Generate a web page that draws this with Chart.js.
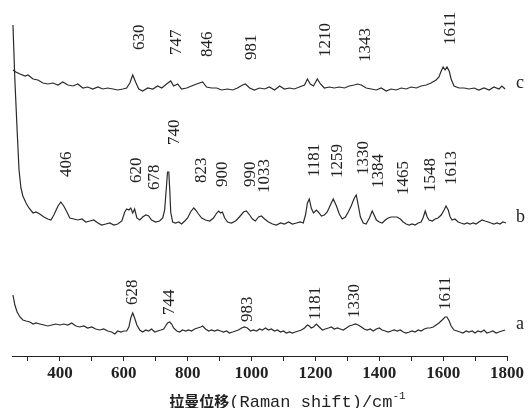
<!DOCTYPE html>
<html lang="zh">
<head>
<meta charset="UTF-8">
<title>拉曼光谱</title>
<script src="https://cdn.jsdelivr.net/npm/chart.js"></script>
<style>
  html, body { margin: 0; padding: 0; background: #fff; }
  #wrap { width: 528px; height: 408px; position: relative; }
</style>
</head>
<body>
<div id="wrap"><canvas id="grafico"></canvas></div>
<script>
// espectros: desplazamiento Raman (cm-1) e intensidad (u.a., con desplazamiento vertical)
const cX = [253,262,275,291,300,316,331,347,362,378,394,409,425,441,456,472,487,503,519,534,550,566,581,597,609,619,628,637,647,659,675,691,706,719,734,747,756,769,781,797,812,828,847,859,875,891,906,925,941,956,972,981,994,1009,1025,1041,1056,1072,1088,1103,1119,1134,1150,1166,1175,1184,1194,1206,1216,1228,1244,1259,1275,1291,1306,1322,1331,1344,1359,1375,1391,1406,1422,1437,1453,1469,1484,1500,1516,1531,1547,1562,1578,1587,1594,1600,1606,1612,1619,1625,1634,1650,1666,1681,1697,1712,1728,1744,1759,1775,1784,1794];
const cY = [286,284,282,280,281,277,276,273,272,273,271,274,271,270,272,268,269,267,269,267,268,267,266,267,268,273,281,274,267,265,268,267,270,268,272,275,270,272,267,268,270,272,274,269,268,268,266,267,266,268,271,272,268,266,268,267,269,266,270,267,268,267,269,271,277,272,270,277,272,268,269,268,269,268,270,271,272,271,268,267,266,268,265,267,266,268,267,269,268,270,271,273,276,279,285,289,286,289,285,277,270,268,268,267,268,266,268,266,269,267,270,267];

const bX = [253,259,266,272,278,284,294,303,316,325,337,350,362,372,381,394,403,412,422,431,444,456,469,481,494,506,519,531,544,556,569,581,594,603,609,616,622,628,634,641,650,659,669,678,687,700,712,722,728,734,737,741,744,747,753,762,772,781,791,800,809,819,825,834,844,856,869,881,891,897,903,909,916,925,937,950,962,975,984,994,1003,1012,1022,1031,1041,1053,1066,1078,1091,1103,1116,1128,1141,1153,1162,1169,1175,1181,1187,1194,1203,1209,1219,1228,1237,1247,1256,1266,1275,1284,1294,1303,1312,1322,1328,1334,1341,1350,1359,1369,1378,1384,1391,1400,1409,1419,1428,1437,1447,1456,1466,1475,1484,1494,1503,1512,1522,1531,1537,1544,1550,1556,1566,1575,1584,1594,1603,1609,1616,1622,1628,1637,1647,1656,1666,1675,1684,1694,1703,1712,1722,1731,1741,1750,1759,1769,1778,1787,1797];
const bY = [331,276,226,186,168,160,153,148,143,144,142,139,137,136,141,150,154,150,144,138,137,136,137,134,135,136,133,131,132,133,131,132,135,144,147,146,148,143,147,138,136,139,141,140,136,134,135,138,146,171,184,184,166,144,134,133,134,132,135,138,144,148,146,142,138,136,135,138,143,145,143,144,138,134,133,135,139,144,145,141,137,135,139,140,137,134,132,131,133,132,134,132,133,134,133,141,153,157,148,143,146,144,140,141,144,151,157,150,142,137,139,144,150,158,161,151,139,133,132,138,145,141,136,134,133,136,138,139,139,139,137,134,132,131,132,131,133,134,138,145,139,136,135,137,138,141,146,150,146,139,136,137,134,133,132,133,132,133,132,134,136,135,134,133,132,133,132,134,133];

const aX = [253,259,266,275,284,294,306,316,325,337,350,362,375,387,400,412,425,437,450,462,475,487,500,512,525,537,550,562,572,581,591,600,609,616,622,628,634,641,650,659,669,678,687,697,706,716,725,731,737,744,750,756,766,775,784,794,803,812,822,831,841,847,856,866,875,884,894,903,912,922,931,941,950,959,969,978,987,997,1006,1016,1025,1034,1044,1053,1062,1072,1081,1091,1100,1109,1119,1128,1137,1147,1156,1166,1175,1181,1187,1194,1203,1212,1222,1231,1241,1250,1259,1269,1278,1287,1297,1306,1316,1325,1334,1344,1353,1362,1372,1381,1391,1400,1409,1419,1428,1437,1447,1456,1466,1475,1484,1494,1503,1512,1522,1531,1541,1550,1559,1569,1578,1587,1597,1606,1612,1619,1625,1634,1644,1653,1662,1672,1681,1691,1700,1709,1719,1728,1737,1747,1756,1766,1775,1784,1794];
const aY = [61,51,44,39,36,35,34,32,33,32,31,30,31,32,31,32,31,33,30,29,30,28,29,27,26,27,25,24,22,25,24,25,25,29,38,43,38,31,26,24,26,25,27,24,25,26,27,30,33,34,32,28,25,24,26,25,26,25,27,28,29,30,27,25,26,25,26,25,24,25,23,24,25,26,28,29,28,25,26,25,27,26,28,26,27,25,26,24,25,23,24,23,24,25,26,28,31,30,28,29,32,29,26,27,28,29,27,28,27,26,28,30,31,32,31,29,27,26,27,25,27,28,26,25,24,25,26,25,26,24,23,24,25,24,26,25,27,28,28,29,31,33,36,39,39,35,30,26,25,24,23,25,24,25,23,25,24,26,23,24,25,23,24,25,26];

// marcas del eje x
const marcasX = [300,400,500,600,700,800,900,1000,1100,1200,1300,1400,1500,1600,1700,1800];
const etiquetasX = [400,600,800,1000,1200,1400,1600,1800];

// rótulos de picos: texto, posición (cm-1) e intensidad del pie del texto
const picosC = ['630','747','846','981','1210','1343','1611'];
const picosCX = [650,766,862,1000,1231,1356,1622];
const picosCY = [306,301,299,296,299,294,311];

const picosB = ['406','620','678','740','823','900','990','1033','1181','1259','1330','1384','1465','1548','1613'];
const picosBX = [422,641,697,759,844,909,997,1041,1197,1269,1350,1397,1475,1559,1625];
const picosBY = [179,173,166,211,173,169,169,163,179,178,181,168,161,164,171];

const picosA = ['628','744','983','1181','1330','1611'];
const picosAX = [628,744,988,1200,1322,1606];
const picosAY = [51,41,34,36,38,46];

const series = [
  { nombre: 'c', x: cX, y: cY, picos: picosC, px: picosCX, py: picosCY },
  { nombre: 'b', x: bX, y: bY, picos: picosB, px: picosBX, py: picosBY },
  { nombre: 'a', x: aX, y: aY, picos: picosA, px: picosAX, py: picosAY }
];

const tinta = '#222';
const serif = '"Liberation Serif", "Times New Roman", serif';

const rotulos = {
  id: 'rotulos',
  afterDraw(chart) {
    const { ctx, scales: { x, y } } = chart;
    ctx.save();
    ctx.fillStyle = tinta;

    // números de los picos, en vertical
    ctx.font = '17px ' + serif;
    ctx.textAlign = 'left';
    ctx.textBaseline = 'middle';
    series.forEach(s => {
      s.picos.forEach((t, i) => {
        ctx.save();
        ctx.translate(x.getPixelForValue(s.px[i]), y.getPixelForValue(s.py[i]));
        ctx.rotate(-Math.PI / 2);
        ctx.fillText(t, 0, 0);
        ctx.restore();
      });
    });

    // letra de cada curva al final
    ctx.font = '18px ' + serif;
    ctx.textBaseline = 'alphabetic';
    series.forEach(s => {
      const fin = s.y[s.y.length - 1];
      ctx.fillText(s.nombre, x.right + 9, y.getPixelForValue(fin) - 1);
    });

    // título del eje x
    const base = x.bottom - 1;
    const parte1 = '拉曼位移';
    const parte2 = '(Raman shift)/cm';
    ctx.font = 'bold 15px "Noto Sans CJK SC"';
    const w1 = ctx.measureText(parte1).width;
    ctx.font = '17px "Liberation Mono", monospace';
    const w2 = ctx.measureText(parte2).width;
    ctx.font = '11px "Liberation Mono", monospace';
    const w3 = ctx.measureText('-1').width;
    let x0 = (x.left + x.right) / 2 + 28 - (w1 + w2 + w3) / 2;
    ctx.font = 'bold 15px "Noto Sans CJK SC"';
    ctx.fillText(parte1, x0, base);
    x0 += w1;
    ctx.font = '17px "Liberation Mono", monospace';
    ctx.fillText(parte2, x0, base);
    x0 += w2;
    ctx.font = '11px "Liberation Mono", monospace';
    ctx.fillText('-1', x0, base - 8);
    ctx.restore();
  }
};

new Chart(document.getElementById('grafico'), {
  type: 'line',
  data: {
    datasets: series.map(s => ({
      label: s.nombre,
      data: s.x.map((v, i) => ({ x: v, y: s.y[i] })),
      borderColor: '#2a2a2a',
      borderWidth: 1.2,
      pointRadius: 0,
      fill: false,
      tension: 0
    }))
  },
  options: {
    responsive: true,
    maintainAspectRatio: false,
    animation: false,
    devicePixelRatio: 1,
    layout: { padding: { left: 12, right: 21, top: 0, bottom: 0 } },
    plugins: { legend: { display: false }, tooltip: { enabled: false } },
    scales: {
      x: {
        type: 'linear',
        min: 250,
        max: 1800,
        afterBuildTicks: s => { s.ticks = marcasX.map(v => ({ value: v })); },
        afterFit: s => { s.height = 52; },
        grid: { drawOnChartArea: false, drawTicks: true, tickLength: 5, color: tinta },
        border: { color: tinta, width: 1 },
        ticks: {
          autoSkip: false,
          maxRotation: 0,
          padding: 2,
          color: tinta,
          font: { family: serif, size: 17, weight: 'bold' },
          callback: v => etiquetasX.includes(v) ? String(v) : ''
        }
      },
      y: { display: false, min: 0, max: 356 }
    }
  },
  plugins: [rotulos]
});
</script>
</body>
</html>
